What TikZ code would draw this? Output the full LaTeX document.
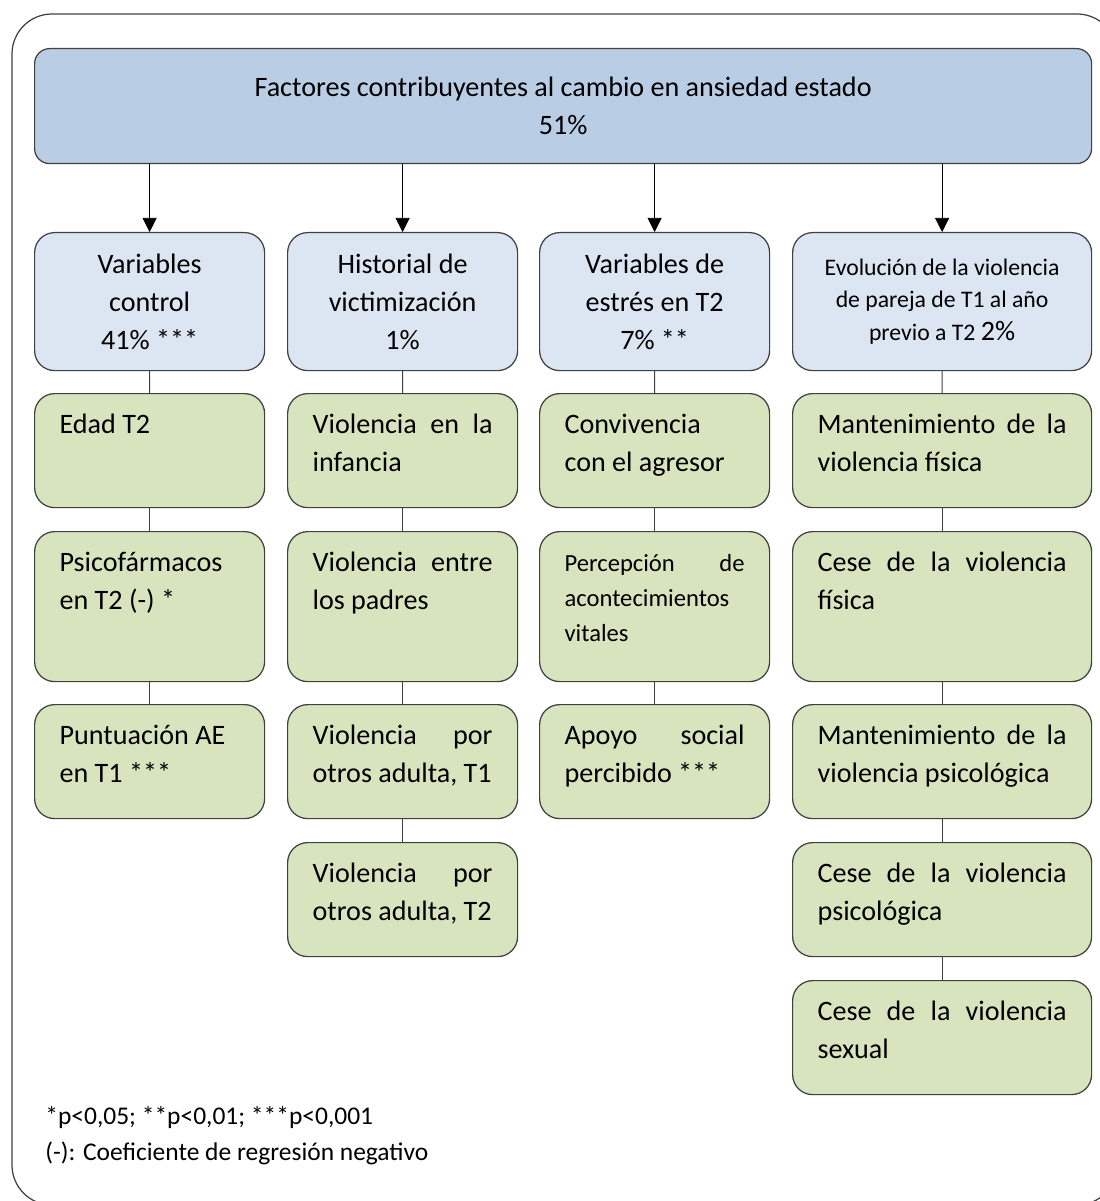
\documentclass[tikz,border=0pt]{standalone}
\usepackage{fontspec}
\setmainfont{Carlito}
\usetikzlibrary{arrows.meta}
\definecolor{Blue1}{RGB}{185,205,229}
\definecolor{Blue2}{RGB}{220,230,242}
\definecolor{Green1}{RGB}{215,228,189}
\definecolor{Line1}{RGB}{64,64,64}

\begin{document}
\begin{tikzpicture}[
	box/.style={draw=Line1,line width=0.7pt,rounded corners=0.4cm,anchor=north west,inner xsep=0.5cm},
	topbox/.style={box,fill=Blue1,rounded corners=0.3cm,minimum width=21.14cm,minimum height=2.3cm,align=center},
	headbox/.style={box,fill=Blue2,minimum height=2.76cm,align=center,inner xsep=0.2cm},
	greenbox/.style={box,fill=Green1,align=flush left,inner ysep=0.33cm,text height=0.47cm},
	short/.style={text depth=1.15cm},
	tall/.style={text depth=1.87cm},
	narrow/.style={text width=3.6cm},
	wide/.style={text width=4.98cm},
	small/.style={font=\fontsize{13.5}{18.7}\selectfont},
	font=\fontsize{16}{21.5}\selectfont]

\useasboundingbox (0,0) rectangle (22,-24.02);
\draw[Line1,line width=0.7pt,rounded corners=0.8cm] (0.24,-0.28) rectangle (22.34,-24.1);

\begin{scope}[>={Triangle[width=0.28cm,length=0.28cm]}]
\node[topbox] (fac) at (0.68,-0.96) {Factores contribuyentes al cambio en ansiedad estado\\51\%};

\node[headbox,minimum width=4.6cm] (vc) at (0.68,-4.64) {Variables\\control\\41\% ***};
\node[headbox,minimum width=4.6cm] (hv) at (5.74,-4.64) {Historial de\\victimización\\1\%};
\node[headbox,minimum width=4.6cm] (ve) at (10.78,-4.64) {Variables de\\estrés en T2\\7\% **};
\node[headbox,minimum width=5.98cm,small] (ev) at (15.84,-4.64) {Evolución de la violencia\\de pareja de T1 al año\\previo a T2 {\fontsize{16}{18.7}\selectfont 2\%}};

\foreach \h in {vc,hv,ve,ev}
	\draw[->] (fac.south -| \h.north) -- (\h.north);

% control
\node[greenbox,narrow,short] (edad) at (0.68,-7.86) {Edad T2};
\node[greenbox,narrow,tall] (psico) at (0.68,-10.62) {Psicofármacos\\en T2 (-) *};
\node[greenbox,narrow,short] (punt) at (0.68,-14.08) {Puntuación AE\\en T1 ***};

% victimizacion
\node[greenbox,narrow,short] (infan) at (5.74,-7.86) {Violencia\hfill en\hfill la\\infancia};
\node[greenbox,narrow,tall] (padres) at (5.74,-10.62) {Violencia\hfill entre\\los padres};
\node[greenbox,narrow,short] (adulta1) at (5.74,-14.08) {Violencia\hfill por\\\mbox{otros adulta, T1}};
\node[greenbox,narrow,short] (adulta2) at (5.74,-16.84) {Violencia\hfill por\\\mbox{otros adulta, T2}};

% estres
\node[greenbox,narrow,short] (conv) at (10.78,-7.86) {Convivencia\\con el agresor};
\node[greenbox,narrow,tall,font=\fontsize{14}{19.8}\selectfont] (percep) at (10.78,-10.62) {Percepción\hfill de\\acontecimientos\\vitales};
\node[greenbox,narrow,short] (apoyo) at (10.78,-14.08) {Apoyo\hfill social\\percibido ***};

% evolucion
\node[greenbox,wide,short] (mfis) at (15.84,-7.86) {Mantenimiento\hfill de\hfill la\\violencia física};
\node[greenbox,wide,tall] (cfis) at (15.84,-10.62) {Cese\hfill de\hfill la\hfill violencia\\física};
\node[greenbox,wide,short] (mpsi) at (15.84,-14.08) {Mantenimiento\hfill de\hfill la\\violencia psicológica};
\node[greenbox,wide,short] (cpsi) at (15.84,-16.84) {Cese\hfill de\hfill la\hfill violencia\\psicológica};
\node[greenbox,wide,short] (csex) at (15.84,-19.6) {Cese\hfill de\hfill la\hfill violencia\\sexual};

\foreach \a/\b in {vc/edad,edad/psico,psico/punt,hv/infan,infan/padres,padres/adulta1,adulta1/adulta2,ve/conv,conv/percep,percep/apoyo,ev/mfis,mfis/cfis,cfis/mpsi,mpsi/cpsi,cpsi/csex}
	\draw[Line1,line width=0.6pt] (\a.south) -- (\b.north);

\node[anchor=north west,align=left,inner sep=0pt,font=\fontsize{14.5}{20.4}\selectfont] (nota) at (0.9,-22.12) {*p<0,05; **p<0,01; ***p<0,001\\(-): Coeficiente de regresión negativo};
\end{scope}

\end{tikzpicture}
\end{document}
